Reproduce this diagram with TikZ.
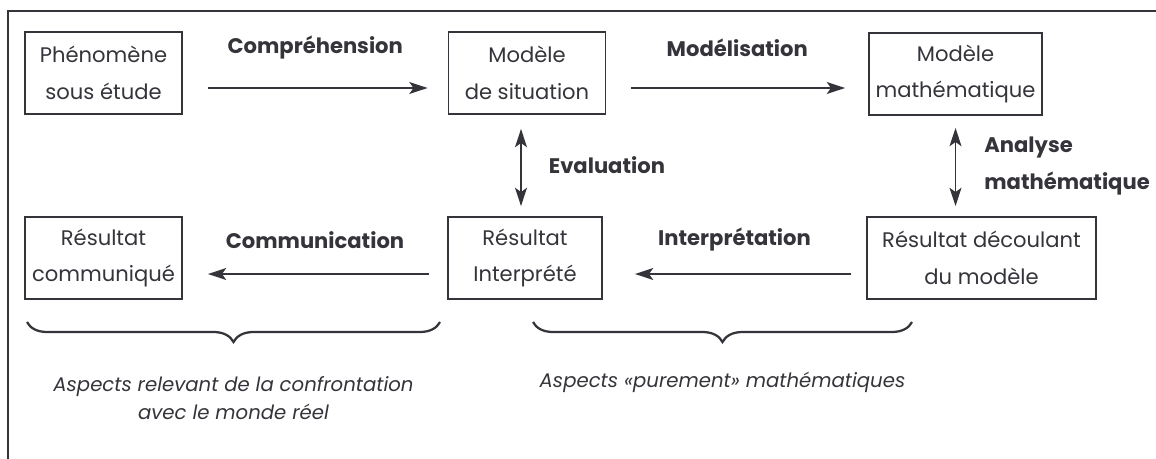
\documentclass[tikz,border=0pt]{standalone}
\usepackage{fontspec}
\setmainfont{Poppins}
\usepackage{xcolor}
\definecolor{figDark}{RGB}{52, 52, 58}
\usepackage{tikz}
\usetikzlibrary{
    arrows.meta,
    positioning,
    calc,
    decorations.pathreplacing
}

\begin{document}
\begin{tikzpicture}[
    x=0.025cm, y=-0.025cm,
    flowBox/.style={
        rectangle, draw=figDark, line width=1.3pt,
        text=figDark, align=center,
        font=\fontsize{15}{26}\selectfont,
        inner sep=2pt, minimum height=2.05cm
    },
    flowArrow/.style={
        -{Stealth[length=13pt, width=8.5pt, inset=3pt]}, line width=1.2pt, draw=figDark
    },
    flowBiArrow/.style={
        {Stealth[length=13pt, width=8.5pt, inset=3pt]}-{Stealth[length=13pt, width=8.5pt, inset=3pt]},
        line width=1.2pt, draw=figDark
    },
    flowLabel/.style={
        font=\bfseries\fontsize{15}{26}\selectfont, text=figDark, inner sep=0pt, align=left
    },
    braceLine/.style={
        decorate, decoration={brace, mirror, amplitude=0.5cm},
        line width=1.6pt, draw=figDark
    },
    braceText/.style={
        font=\itshape\fontsize{14}{20}\selectfont, text=figDark, align=center, inner sep=0pt
    },
    frameLine/.style={line width=1.4pt, draw=figDark}
]
    \useasboundingbox (0,0) rectangle (1156,459);

    % Outer frame (top and left edges only)
    \draw[frameLine] (8,459) -- (8,11) -- (1156,11);

    % Upper row
    \node[flowBox, minimum width=3.925cm] (phen) at (103.5,73) {Phénomène\\sous étude};
    \node[flowBox, minimum width=3.925cm] (modSit) at (527,73) {Modèle\\de situation};
    \node[flowBox, minimum width=4.325cm] (modMath) at (955.5,74) {Modèle\\mathématique};

    % Lower row
    \node[flowBox, minimum width=3.925cm] (resComm) at (103.5,258) {Résultat\\communiqué};
    \node[flowBox, minimum width=3.85cm] (resInt) at (525,258) {Résultat\\Interprété};
    \node[flowBox, minimum width=5.725cm] (resDec) at (981.5,258) {Résultat découlant\\du modèle};

    % Horizontal steps
    \draw[flowArrow, shorten <=0.625cm, shorten >=0.5cm]
        ([yshift=-0.375cm]phen.east) -- node[flowLabel, midway, yshift=1cm] {Compréhension} ([yshift=-0.375cm]modSit.west);
    \draw[flowArrow, shorten <=0.625cm, shorten >=0.575cm]
        ([yshift=-0.375cm]modSit.east) -- node[flowLabel, midway, yshift=1cm] {Modélisation} ([yshift=-0.35cm]modMath.west);
    \draw[flowArrow, shorten <=0.375cm, shorten >=0.8cm]
        ([yshift=-0.4cm]resDec.west) -- node[flowLabel, midway, yshift=0.85cm] {Interprétation} ([yshift=-0.4cm]resInt.east);
    \draw[flowArrow, shorten <=0.45cm, shorten >=0.625cm]
        ([yshift=-0.4cm]resInt.west) -- node[flowLabel, midway, yshift=0.85cm] {Communication} ([yshift=-0.4cm]resComm.east);

    % Vertical steps
    \draw[flowBiArrow, shorten <=0.35cm, shorten >=0.25cm]
        ([xshift=-0.15cm]modSit.south) -- node[flowLabel, midway, right=0.675cm] {Evaluation} ([xshift=-0.15cm]modSit.south |- resInt.north);
    \draw[flowBiArrow, shorten <=0.3cm, shorten >=0.25cm]
        (modMath.south) -- node[flowLabel, midway, right=0.7cm] {Analyse\\mathématique} (modMath.south |- resDec.north);

    % Braces
    \coordinate (realL) at (27,322);
    \coordinate (realR) at (440,322);
    \coordinate (mathL) at (533,322);
    \coordinate (mathR) at (912,322);
    \draw[braceLine] (realL) -- (realR);
    \draw[braceLine] (mathL) -- (mathR);

    \node[braceText] (txtReal) at (233.5,398) {Aspects relevant de la confrontation\\avec le monde réel};
    \node[braceText] (txtMath) at (722.5,382) {Aspects «purement» mathématiques};

\end{tikzpicture}
\end{document}
